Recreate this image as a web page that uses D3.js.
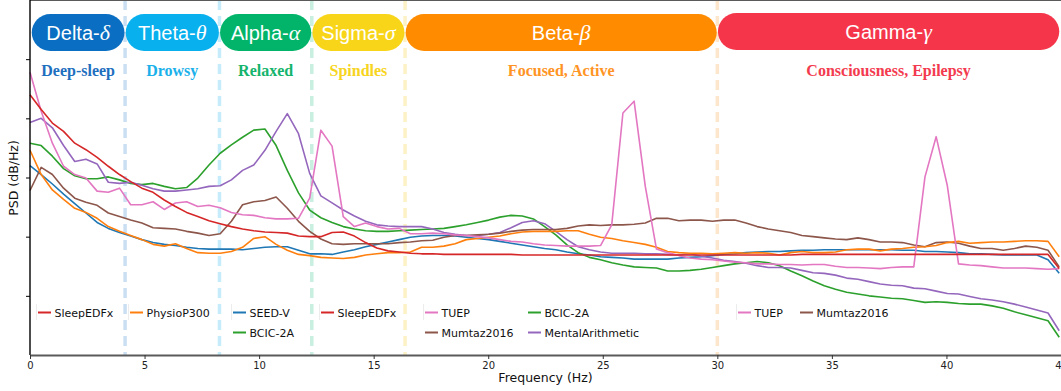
<!DOCTYPE html>
<html>
<head>
<meta charset="utf-8">
<script src="https://cdn.jsdelivr.net/npm/d3@7"></script>
<style>
  body { margin: 0; background: #fff; }
  svg { display: block; }
</style>
</head>
<body>
<svg id="chart" width="1061" height="391"></svg>
<script>
// Frequency bins of the Welch spectra (250 Hz / 512-point segments)
const binWidth = 250 / 512;
const freqs = d3.range(93).map(k => k * binWidth);

// Mean PSD per dataset, one value per frequency bin
const sleepEDFx = [44.0, 41.5, 39.2, 37.8, 35.8, 34.7, 33.4, 31.9, 30.5, 29.3,
  28.2, 27.5, 26.2, 25.1, 24.1, 23.4, 22.7, 22.2, 21.7, 21.3,
  21.0, 20.8, 20.7, 20.6, 20.1, 20.0, 20.0, 20.7, 20.8, 20.1,
  19.0, 18.1, 17.6, 17.4, 17.2, 17.1, 17.1, 17.0, 17.0, 17.0,
  17.0, 17.0, 17.0, 17.0, 16.9, 16.9, 16.9, 16.9, 16.9, 16.9,
  16.9, 16.9, 16.9, 16.9, 16.9, 16.9, 16.9, 16.9, 16.9, 16.9,
  16.9, 16.9, 16.9, 16.9, 16.9, 16.9, 16.9, 16.9, 16.9, 17.0,
  17.0, 17.0, 17.0, 17.0, 17.0, 17.0, 17.0, 17.0, 17.0, 17.0,
  17.0, 17.0, 17.0, 17.0, 17.0, 17.0, 17.0, 17.0, 17.0, 17.0,
  17.0, 17.0, 14.6];

const physioP300 = [34.6, 30.5, 27.9, 26.3, 24.8, 24.1, 23.1, 21.7, 20.9, 20.2,
  19.5, 18.7, 18.4, 18.8, 18.0, 17.3, 17.2, 17.2, 17.5, 18.2,
  19.7, 20.0, 18.7, 17.7, 17.0, 16.8, 16.5, 16.4, 16.3, 16.5,
  16.9, 17.1, 17.3, 17.3, 17.4, 18.2, 18.2, 18.4, 18.8, 19.5,
  19.7, 19.9, 20.1, 20.5, 20.8, 20.9, 20.9, 20.9, 21.0, 21.0,
  20.4, 19.9, 19.7, 19.3, 19.0, 18.7, 18.2, 17.5, 17.3, 17.2,
  17.2, 17.1, 17.2, 17.3, 17.2, 17.3, 17.2, 16.9, 17.3, 17.5,
  17.3, 17.3, 17.4, 17.8, 17.9, 17.9, 17.6, 17.9, 18.0, 18.2,
  18.3, 18.5, 19.0, 19.2, 18.9, 19.0, 19.1, 19.1, 19.2, 19.3,
  19.3, 19.2, 16.6];

const seedV = [32.0, 30.5, 28.9, 27.2, 25.6, 24.0, 22.4, 21.4, 20.7, 20.1,
  19.5, 19.0, 18.7, 18.5, 18.2, 18.0, 17.9, 17.9, 17.9, 17.8,
  18.0, 18.2, 18.3, 18.3, 17.7, 17.1, 17.1, 17.0, 17.4, 17.8,
  18.3, 18.7, 19.1, 19.5, 19.9, 20.1, 20.2, 20.2, 20.1, 19.9,
  19.7, 19.5, 19.2, 18.9, 18.6, 18.3, 18.0, 17.8, 17.4, 17.1,
  16.9, 16.6, 16.5, 16.4, 16.2, 16.2, 16.2, 16.2, 16.4, 16.5,
  16.6, 16.8, 17.0, 17.1, 17.3, 17.4, 17.5, 17.5, 17.6, 17.7,
  17.7, 17.8, 17.8, 17.8, 17.8, 17.8, 17.8, 17.8, 17.7, 17.7,
  17.5, 17.5, 17.4, 17.3, 17.1, 17.1, 17.0, 16.9, 16.9, 16.9,
  16.9, 16.1, 13.8];

const bcic2a = [35.8, 35.4, 33.6, 31.5, 30.3, 29.8, 29.8, 30.1, 29.6, 29.0,
  28.8, 29.0, 28.5, 28.1, 28.3, 29.9, 32.1, 34.1, 35.5, 36.8,
  38.0, 38.2, 35.4, 31.2, 27.4, 24.5, 23.2, 22.4, 21.7, 21.3,
  21.0, 20.9, 20.9, 21.0, 21.1, 21.2, 21.3, 21.4, 21.7, 22.0,
  22.4, 22.8, 23.3, 23.6, 23.5, 23.0, 21.7, 20.3, 18.6, 17.3,
  16.5, 16.1, 15.6, 15.2, 14.9, 14.8, 14.7, 14.2, 14.2, 14.3,
  14.5, 14.8, 15.1, 15.4, 15.6, 15.8, 15.6, 15.1, 14.2, 13.4,
  12.5, 11.7, 11.1, 10.6, 10.3, 10.0, 9.8, 9.6, 9.5, 9.2,
  8.9, 9.0, 8.9, 8.7, 8.6, 8.6, 8.3, 7.9, 7.3, 6.8,
  6.3, 5.8, 3.0];

const tuep = [47.8, 41.2, 35.8, 31.9, 30.5, 29.9, 27.7, 27.5, 28.2, 25.4,
  25.4, 25.9, 24.6, 25.7, 25.9, 25.1, 25.3, 24.9, 24.1, 23.7,
  23.6, 23.2, 23.0, 23.0, 23.1, 26.5, 38.0, 35.3, 23.4, 21.7,
  22.3, 21.7, 21.3, 21.4, 20.5, 20.5, 20.6, 20.5, 20.3, 20.2,
  20.0, 19.8, 19.5, 19.2, 19.1, 18.8, 18.6, 18.5, 18.4, 18.4,
  18.4, 18.5, 22.0, 40.9, 42.9, 28.5, 17.9, 17.3, 16.8, 16.4,
  16.2, 16.1, 15.9, 15.7, 15.6, 15.4, 15.4, 15.3, 15.3, 15.2,
  15.3, 15.3, 15.0, 14.8, 14.8, 14.7, 14.6, 14.8, 14.9, 14.9,
  30.1, 36.9, 28.6, 15.4, 15.2, 15.1, 14.9, 14.7, 14.7, 14.7,
  14.6, 14.5, 14.6];

const mumtaz2016 = [27.8, 31.7, 30.5, 28.2, 26.5, 25.8, 25.3, 24.0, 23.4, 22.8,
  22.3, 21.5, 21.4, 21.3, 20.9, 20.6, 20.2, 20.5, 22.6, 25.4,
  25.9, 26.1, 26.7, 24.8, 22.6, 20.9, 19.6, 18.8, 18.7, 18.8,
  18.8, 18.8, 18.8, 19.0, 19.1, 19.3, 19.4, 19.9, 20.2, 20.2,
  20.3, 20.4, 20.6, 20.9, 21.1, 21.2, 21.2, 21.2, 21.4, 21.8,
  22.0, 21.9, 22.0, 22.0, 22.1, 22.3, 23.1, 23.1, 22.7, 22.8,
  22.8, 22.6, 22.8, 22.8, 22.3, 21.7, 21.3, 21.0, 20.7, 20.2,
  20.0, 19.8, 19.6, 19.5, 19.8, 19.5, 19.1, 19.1, 19.0, 18.6,
  18.3, 19.0, 19.1, 18.9, 18.4, 18.0, 18.0, 17.7, 18.0, 18.4,
  18.2, 17.7, 14.9];

const mentalArithmetic = [39.3, 40.0, 38.4, 35.4, 32.7, 33.1, 32.3, 29.2, 29.0, 29.2,
  28.7, 28.1, 27.7, 27.7, 27.9, 28.1, 28.5, 28.6, 29.6, 31.2,
  32.1, 34.6, 37.8, 40.8, 37.4, 30.7, 26.9, 25.7, 24.5, 23.5,
  22.6, 22.0, 21.8, 21.7, 21.7, 21.7, 21.3, 20.7, 20.4, 20.2,
  20.2, 20.4, 20.7, 21.5, 22.4, 22.7, 22.2, 20.9, 19.5, 18.3,
  17.8, 17.4, 17.2, 17.2, 17.2, 17.1, 17.1, 17.0, 16.9, 17.1,
  16.7, 16.4, 16.0, 15.8, 15.5, 15.1, 14.8, 14.8, 14.7, 14.3,
  13.9, 13.8, 13.5, 13.0, 12.8, 12.4, 12.0, 11.8, 11.7, 11.3,
  11.2, 10.8, 10.4, 10.3, 9.9, 9.5, 9.3, 9.0, 8.6, 8.1,
  7.6, 7.1, 4.1];

// EEG rhythm bands
const bandNames = ["Delta-", "Theta-", "Alpha-", "Sigma-", "Beta-", "Gamma-"];
const bandSymbols = ["δ", "θ", "α", "σ", "β", "γ"];
const bandStates = ["Deep-sleep", "Drowsy", "Relaxed", "Spindles", "Focused, Active", "Consciousness, Epilepsy"];
const bandEdges = [0.05, 4.15, 8.27, 12.3, 16.37, 30, 44.95];
const bandColors = ["#0a6fc2", "#08b0ee", "#02b469", "#f8d519", "#ff8c00", "#f5364a"];
const bandTextColors = ["#1f6fbf", "#1ab0ea", "#14b46c", "#f7d420", "#ff9424", "#f33a4e"];
const boundaryColors = ["#cbdff2", "#c6ecfb", "#c8efe0", "#fdf1c6", "#fde6cc"];

const xTicks = [0, 5, 10, 15, 20, 25, 30, 35, 40, 45];
const yTicks = [10, 20, 30, 40, 50];

const series = [
  { name: "SEED-V", values: seedV, color: "#1f77b4" },
  { name: "BCIC-2A", values: bcic2a, color: "#2ca02c" },
  { name: "MentalArithmetic", values: mentalArithmetic, color: "#9467bd" },
  { name: "Mumtaz2016", values: mumtaz2016, color: "#8c564b" },
  { name: "PhysioP300", values: physioP300, color: "#ff7f0e" },
  { name: "TUEP", values: tuep, color: "#e377c2" },
  { name: "SleepEDFx", values: sleepEDFx, color: "#d62728" }
];
const colorOf = Object.fromEntries(series.map(s => [s.name, s.color]));

// Per-band legend boxes: [left, [[row1 col1, row1 col2], [row2 ...]]]
const legendBoxes = [
  { x: 37, colX: [0], rows: [["SleepEDFx"]] },
  { x: 129, colX: [0], rows: [["PhysioP300"]] },
  { x: 232, colX: [0], rows: [["SEED-V"], ["BCIC-2A"]] },
  { x: 320, colX: [0], rows: [["SleepEDFx"]] },
  { x: 424, colX: [0, 103], rows: [["TUEP", "BCIC-2A"], ["Mumtaz2016", "MentalArithmetic"]] },
  { x: 737, colX: [0, 62], rows: [["TUEP", "Mumtaz2016"]] }
];

const svg = d3.select("#chart");
const W = 1061, H = 391;
const plot = { left: 30, right: 1061, top: 0, bottom: 355 };

const x = d3.scaleLinear().domain([0, 45]).range([plot.left, plot.right]);
const y = d3.scaleLinear().domain([0, 60]).range([plot.bottom, plot.top]);

// band boundaries (dashed)
svg.append("g").selectAll("line")
  .data(bandEdges.slice(1, 6))
  .join("line")
  .attr("x1", d => x(d)).attr("x2", d => x(d))
  .attr("y1", plot.top).attr("y2", plot.bottom)
  .attr("stroke", (d, i) => boundaryColors[i])
  .attr("stroke-width", 3.5)
  .attr("stroke-dasharray", "10,6");

// top frame line
svg.append("line")
  .attr("x1", plot.left).attr("x2", plot.right)
  .attr("y1", 0.5).attr("y2", 0.5)
  .attr("stroke", "#5a5a5a").attr("stroke-width", 1.2);

// spectra
const line = d3.line()
  .x((d, i) => x(freqs[i]))
  .y(d => y(d));

svg.append("g")
  .attr("fill", "none")
  .attr("stroke-linejoin", "round")
  .selectAll("path")
  .data(series)
  .join("path")
  .attr("d", d => line(d.values))
  .attr("stroke", d => d.color)
  .attr("stroke-width", 1.6);

// band pills
const pills = svg.append("g");
bandNames.forEach((name, i) => {
  const x0 = x(bandEdges[i]) + 0.6, x1 = x(bandEdges[i + 1]) - 0.6;
  const top = i === 5 ? 13 : 14, h = 37;
  pills.append("rect")
    .attr("x", x0).attr("y", top)
    .attr("width", x1 - x0).attr("height", h)
    .attr("rx", h / 2).attr("ry", h / 2)
    .attr("fill", bandColors[i]);
  const t = pills.append("text")
    .attr("x", (x0 + x1) / 2).attr("y", top + h / 2 + 7)
    .attr("text-anchor", "middle")
    .attr("fill", "#fff")
    .attr("font-family", "Liberation Sans, Arial, sans-serif")
    .attr("font-size", 20);
  t.append("tspan").text(name);
  t.append("tspan")
    .attr("font-family", "Liberation Serif, Times New Roman, serif")
    .attr("font-style", "italic")
    .attr("font-size", 22)
    .text(bandSymbols[i]);
  pills.append("text")
    .attr("x", (x0 + x1) / 2).attr("y", 76)
    .attr("text-anchor", "middle")
    .attr("fill", bandTextColors[i])
    .attr("font-family", "Liberation Serif, Times New Roman, serif")
    .attr("font-weight", "bold")
    .attr("font-size", 16)
    .text(bandStates[i]);
});

// axes
const yAxis = svg.append("g")
  .attr("transform", `translate(${plot.left},0)`)
  .call(d3.axisLeft(y).tickValues(yTicks).tickFormat("").tickSize(4).tickSizeOuter(0));
yAxis.select(".domain").attr("stroke", "#000").attr("stroke-width", 1.4)
  .attr("d", `M0,${plot.top}V${plot.bottom}`);
yAxis.selectAll(".tick line").attr("stroke", "#000").attr("stroke-width", 1);

const xAxis = svg.append("g")
  .attr("transform", `translate(0,${plot.bottom})`)
  .call(d3.axisBottom(x).tickValues(xTicks).tickSize(4).tickSizeOuter(0).tickPadding(3));
xAxis.select(".domain").attr("stroke", "#5a5a5a").attr("stroke-width", 1.8);
xAxis.selectAll(".tick line").attr("stroke", "#333");
xAxis.selectAll(".tick text")
  .attr("font-family", "DejaVu Sans, sans-serif")
  .attr("font-size", 10)
  .attr("fill", "#222");

svg.append("text")
  .attr("x", (plot.left + plot.right) / 2).attr("y", 382)
  .attr("text-anchor", "middle")
  .attr("font-family", "DejaVu Sans, sans-serif")
  .attr("font-size", 12.5)
  .attr("fill", "#111")
  .text("Frequency (Hz)");

svg.append("text")
  .attr("transform", "translate(18,178) rotate(-90)")
  .attr("text-anchor", "middle")
  .attr("font-family", "DejaVu Sans, sans-serif")
  .attr("font-size", 12.5)
  .attr("fill", "#111")
  .text("PSD (dB/Hz)");

// legends
const legendG = svg.append("g");
const rowY = [312.5, 332.5];
legendBoxes.forEach(box => {
  legendG.append("line")
    .attr("x1", box.x - 0.5).attr("x2", box.x - 0.5)
    .attr("y1", 304).attr("y2", 320)
    .attr("stroke", "#ececec").attr("stroke-width", 1);
  box.rows.forEach((row, r) => {
    row.forEach((name, c) => {
      const lx = box.x + 1 + box.colX[c];
      legendG.append("line")
        .attr("x1", lx).attr("x2", lx + 13)
        .attr("y1", rowY[r]).attr("y2", rowY[r])
        .attr("stroke", colorOf[name]).attr("stroke-width", 2);
      legendG.append("text")
        .attr("x", lx + 16.5).attr("y", rowY[r] + 4)
        .attr("font-family", "DejaVu Sans, sans-serif")
        .attr("font-size", 11)
        .attr("fill", "#111")
        .text(name);
    });
  });
});
</script>
</body>
</html>
